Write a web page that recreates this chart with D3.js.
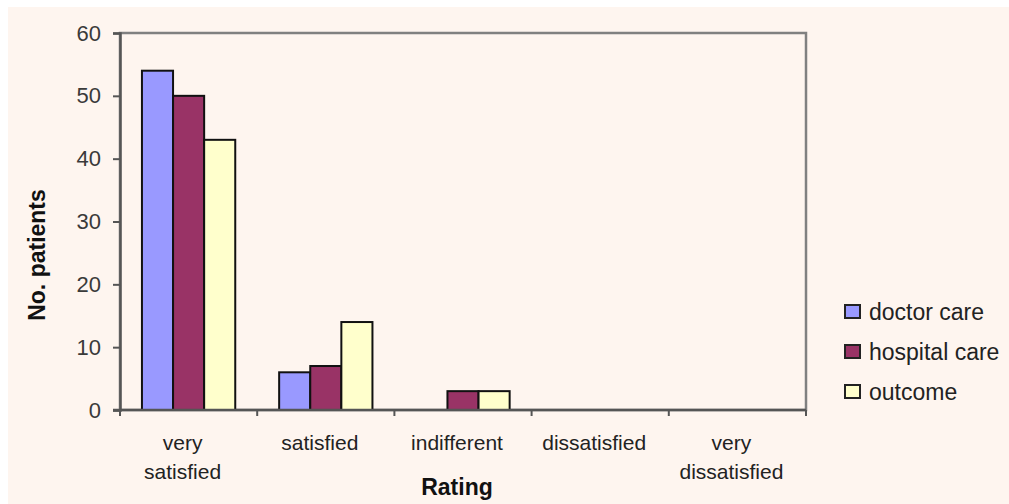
<!DOCTYPE html>
<html>
<head>
<meta charset="utf-8">
<script src="https://cdn.jsdelivr.net/npm/d3@7"></script>
<style>
  body { margin: 0; background: #fff; }
  svg { display: block; font-family: "Liberation Sans", Arial, sans-serif; }
</style>
</head>
<body>
<svg id="chart" width="1009" height="504"></svg>
<script>
// Data
var categories = [['very', 'satisfied'], ['satisfied'], ['indifferent'], ['dissatisfied'], ['very', 'dissatisfied']];
var seriesNames = ['doctor care', 'hospital care', 'outcome'];
var doctorCare = [54, 6, 0, 0, 0];
var hospitalCare = [50, 7, 3, 0, 0];
var outcome = [43, 14, 3, 0, 0];
var yTicks = [0, 10, 20, 30, 40, 50, 60];

var colors = ['#9999ff', '#993366', '#ffffcc'];
var series = [doctorCare, hospitalCare, outcome];

var chart = {
    margin: { top: 33, left: 120, right: 203, bottom: 94 },
    width: 1009,
    height: 504,

    init: function() {
        var self = this;
        self.svg = d3.select('#chart');

        // page background with thin white border top/left
        self.svg.append('rect')
            .attr('x', 8).attr('y', 7)
            .attr('width', self.width - 8).attr('height', self.height - 7)
            .attr('fill', '#fef5ef');

        self.w = self.width - self.margin.left - self.margin.right;
        self.h = self.height - self.margin.top - self.margin.bottom;

        self.g = self.svg.append('g')
            .attr('transform', 'translate(' + self.margin.left + ',' + self.margin.top + ')');

        self.x = d3.scaleBand()
            .domain(d3.range(categories.length))
            .range([0, self.w])
            .paddingInner(0.32).paddingOuter(0.16);

        self.x1 = d3.scaleBand()
            .domain(d3.range(series.length))
            .range([0, self.x.bandwidth()]);

        self.y = d3.scaleLinear().domain([0, 60]).range([self.h, 0]);

        self.drawFrame();
        self.drawBars();
        self.drawAxes();
        self.drawLegend();
    },

    drawFrame: function() {
        var self = this;
        self.g.append('rect')
            .attr('x', 0).attr('y', 0)
            .attr('width', self.w).attr('height', self.h)
            .attr('fill', 'none')
            .attr('stroke', '#808080')
            .attr('stroke-width', 2.5);
    },

    drawBars: function() {
        var self = this;
        var groups = self.g.selectAll('.grp')
            .data(categories)
            .enter().append('g')
            .attr('class', 'grp')
            .attr('transform', function(d, i) { return 'translate(' + self.x(i) + ',0)'; });

        groups.selectAll('rect')
            .data(function(d, i) {
                return series.map(function(s, j) { return { s: j, v: s[i] }; });
            })
            .enter().filter(function(d) { return d.v > 0; })
            .append('rect')
            .attr('x', function(d) { return self.x1(d.s); })
            .attr('y', function(d) { return self.y(d.v); })
            .attr('width', self.x1.bandwidth())
            .attr('height', function(d) { return self.y(0) - self.y(d.v); })
            .attr('fill', function(d) { return colors[d.s]; })
            .attr('stroke', '#111')
            .attr('stroke-width', 2);
    },

    drawAxes: function() {
        var self = this;
        var step = self.w / categories.length;

        // y axis
        var yAxis = self.g.append('g')
            .call(d3.axisLeft(self.y).tickValues(yTicks).tickSize(7).tickPadding(12));
        yAxis.select('.domain').attr('stroke', '#555').attr('stroke-width', 2.5);
        yAxis.selectAll('.tick line').attr('stroke', '#555').attr('stroke-width', 2);
        yAxis.selectAll('.tick text')
            .attr('fill', '#3a3a3a').style('font-size', '22px');

        // x axis baseline
        self.g.append('line')
            .attr('x1', -7).attr('x2', self.w)
            .attr('y1', self.h).attr('y2', self.h)
            .attr('stroke', '#555').attr('stroke-width', 2.5);

        // x ticks at category boundaries
        self.g.selectAll('.xtick')
            .data(d3.range(categories.length + 1))
            .enter().append('line')
            .attr('x1', function(d) { return d * step; })
            .attr('x2', function(d) { return d * step; })
            .attr('y1', self.h).attr('y2', self.h + 6)
            .attr('stroke', '#555').attr('stroke-width', 2);

        // category labels (slightly left of band centre, as in the original)
        var labels = self.g.selectAll('.xlab')
            .data(categories)
            .enter().append('text')
            .attr('text-anchor', 'middle')
            .attr('fill', '#222')
            .style('font-size', '21px')
            .attr('transform', function(d, i) {
                return 'translate(' + (self.x(i) + self.x.bandwidth() / 2 - 6) + ',' + (self.h + 40) + ')';
            });
        labels.selectAll('tspan')
            .data(function(d) { return d; })
            .enter().append('tspan')
            .attr('x', 0)
            .attr('dy', function(d, i) { return i === 0 ? 0 : 29; })
            .text(function(d) { return d; });

        // axis titles
        self.svg.append('text')
            .attr('x', 457)
            .attr('y', 495)
            .attr('text-anchor', 'middle')
            .style('font-size', '23px').style('font-weight', 'bold')
            .attr('fill', '#111')
            .text('Rating');

        self.svg.append('text')
            .attr('transform', 'translate(45,' + 255 + ') rotate(-90)')
            .attr('text-anchor', 'middle')
            .style('font-size', '23px').style('font-weight', 'bold')
            .attr('fill', '#111')
            .text('No. patients');
    },

    drawLegend: function() {
        var self = this;
        var legend = self.svg.append('g')
            .attr('transform', 'translate(845,305)');

        var items = legend.selectAll('.leg')
            .data(seriesNames)
            .enter().append('g')
            .attr('transform', function(d, i) { return 'translate(0,' + (i * 40) + ')'; });

        items.append('rect')
            .attr('width', 15).attr('height', 13)
            .attr('fill', function(d, i) { return colors[i]; })
            .attr('stroke', '#222').attr('stroke-width', 2);

        items.append('text')
            .attr('x', 24).attr('y', 15)
            .attr('fill', '#222')
            .style('font-size', '23px')
            .text(function(d) { return d; });
    }
};

chart.init();
</script>
</body>
</html>
